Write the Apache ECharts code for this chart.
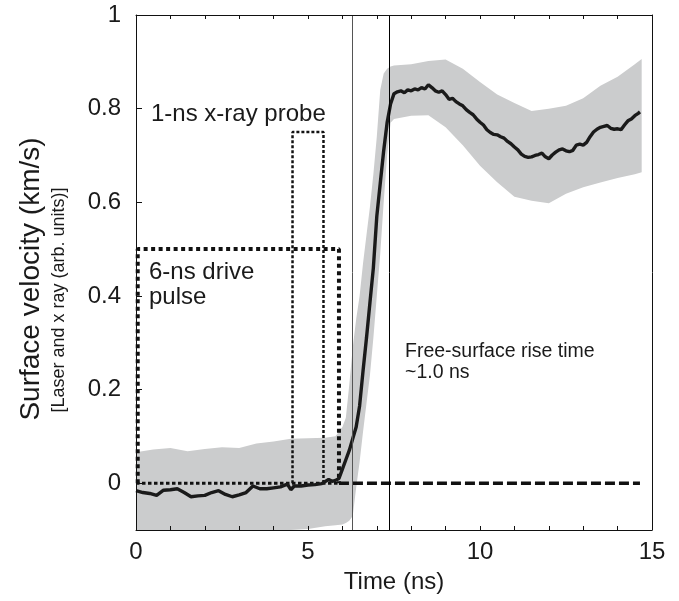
<!DOCTYPE html>
<html>
<head>
<meta charset="utf-8">
<script src="https://cdn.jsdelivr.net/npm/echarts@6/dist/echarts.min.js"></script>
<style>
html,body{margin:0;padding:0;background:#fff;}
#chart{width:679px;height:601px;}
</style>
</head>
<body>
<div id="chart"></div>
<script>
// ---- data ----
const timeV = [0.0,0.2,0.4,0.6,0.8,1.0,1.2,1.4,1.6,1.8,2.0,2.2,2.4,2.6,2.8,3.0,3.2,3.4,3.6,3.8,4.0,4.2,4.4,4.5,4.6,4.8,5.0,5.2,5.4,5.6,5.7,5.8,5.9,6.0,6.1,6.2,6.3,6.4,6.5,6.6,6.7,6.8,6.9,7.0,7.1,7.2,7.3,7.4,7.5,7.6,7.7,7.8,7.9,8.0,8.1,8.2,8.3,8.4,8.5,8.6,8.7,8.8,8.9,9.0,9.1,9.2,9.3,9.4,9.5,9.6,9.7,9.8,9.9,10.0,10.1,10.2,10.3,10.4,10.5,10.6,10.7,10.8,10.9,11.0,11.1,11.2,11.3,11.4,11.5,11.6,11.7,11.8,11.9,12.0,12.1,12.2,12.3,12.4,12.5,12.6,12.7,12.8,12.9,13.0,13.1,13.2,13.3,13.4,13.5,13.6,13.7,13.8,13.9,14.0,14.1,14.2,14.3,14.4,14.5,14.6,14.65];
const velocity = [-0.016,-0.02,-0.022,-0.026,-0.015,-0.014,-0.012,-0.02,-0.029,-0.027,-0.026,-0.02,-0.016,-0.024,-0.029,-0.025,-0.02,-0.006,-0.012,-0.012,-0.01,-0.008,-0.002,-0.014,-0.006,-0.006,-0.004,-0.003,-0.001,0.008,0.004,0.006,0.01,0.03,0.05,0.07,0.095,0.12,0.165,0.24,0.31,0.385,0.46,0.57,0.64,0.71,0.77,0.81,0.832,0.836,0.838,0.834,0.84,0.838,0.842,0.84,0.845,0.842,0.851,0.845,0.838,0.835,0.838,0.83,0.82,0.822,0.815,0.81,0.806,0.798,0.792,0.787,0.778,0.771,0.765,0.755,0.749,0.745,0.744,0.74,0.737,0.73,0.725,0.718,0.712,0.703,0.698,0.696,0.697,0.7,0.702,0.705,0.697,0.693,0.701,0.707,0.712,0.714,0.71,0.708,0.711,0.722,0.724,0.722,0.728,0.74,0.75,0.756,0.76,0.762,0.764,0.758,0.756,0.757,0.755,0.765,0.774,0.778,0.785,0.79,0.793];

const bandT     = [0,0.5,1,1.5,2,2.5,3,3.5,4,4.5,5,5.5,5.8,6.0,6.1,6.2,6.3,6.4,6.5,6.6,6.7,6.8,6.9,7.0,7.1,7.2,7.3,7.4,7.5,8,8.5,9,9.5,10,10.5,11,11.5,12,12.5,13,13.5,14,14.5,14.7];
const bandUpper = [0.066,0.072,0.075,0.068,0.073,0.077,0.075,0.085,0.089,0.095,0.096,0.097,0.10,0.12,0.14,0.21,0.29,0.35,0.40,0.47,0.53,0.59,0.66,0.74,0.84,0.875,0.885,0.89,0.892,0.895,0.902,0.905,0.885,0.857,0.83,0.812,0.795,0.80,0.806,0.822,0.849,0.868,0.895,0.906];
const bandLower = [-0.11,-0.11,-0.11,-0.11,-0.11,-0.11,-0.11,-0.108,-0.105,-0.10,-0.098,-0.092,-0.09,-0.088,-0.085,-0.08,-0.07,-0.01,0.045,0.11,0.17,0.23,0.31,0.40,0.49,0.60,0.70,0.77,0.778,0.785,0.786,0.76,0.722,0.678,0.643,0.612,0.603,0.598,0.618,0.632,0.642,0.652,0.66,0.664];

const driveT = [0.05,0.05,5.9,5.9];
const driveV = [0,0.5,0.5,0];
const probeT = [4.55,4.55,5.45,5.45];
const probeV = [0,0.75,0.75,0];
const baseLowT = [0,5.9];
const baseLowV = [0,0];
const baseTailT = [5.9,14.65];
const baseTailV = [0,0];
const markTimes = [6.3,7.37];

const xTicks = [0,5,10,15];
const yTicks = [0,0.2,0.4,0.6,0.8,1];

// ---- build ----
const zip = (a,b) => a.map((v,i)=>[v,b[i]]);
const FONT = '"Liberation Sans", Arial, Helvetica, sans-serif';
const INK = '#1a1a1a';

const chart = echarts.init(document.getElementById('chart'), null, {renderer:'canvas'});

const xCommon = {
  type:'value', min:0, max:15, interval:5,
  axisLine:{show:true, onZero:false, lineStyle:{color:'#111', width:1}},
  axisTick:{show:true, inside:true, length:4, lineStyle:{color:'#111', width:1}},
  minorTick:{show:true, splitNumber:5, length:4, lineStyle:{color:'#111', width:1}},
  splitLine:{show:false}, minorSplitLine:{show:false}, z:10
};

function renderBand(params, api){
  if (params.dataIndex !== 0) return null;
  const pts = [];
  for (let i = 0; i < bandT.length; i++) pts.push(api.coord([bandT[i], bandUpper[i]]));
  for (let i = bandT.length - 1; i >= 0; i--) pts.push(api.coord([bandT[i], bandLower[i]]));
  return {type:'polygon', shape:{points:pts}, style:{fill:'#cbcccd', stroke:null}};
}

const txt = (x, y, text, size, align, rot) => ({
  type:'text', x:x, y:y, rotation:rot||0, z:100,
  style:{text:text, font:size+'px '+FONT, fill:INK, align:align, verticalAlign:'middle'}
});

const option = {
  animation:false,
  backgroundColor:'#ffffff',
  grid:{left:136, top:15, right:27, bottom:71, containLabel:false, outerBoundsMode:'none'},
  xAxis:[
    Object.assign({}, xCommon, {position:'bottom',
      axisLabel:{show:true, fontSize:24, margin:10, color:INK, fontFamily:FONT, customValues:xTicks}}),
    Object.assign({}, xCommon, {position:'top', axisLabel:{show:false}})
  ],
  yAxis:[
    {type:'value', min:-0.1, max:1, position:'left',
     axisLine:{show:true, onZero:false, lineStyle:{color:'#111', width:1}},
     axisTick:{show:true, inside:true, length:6, customValues:yTicks, lineStyle:{color:'#111'}},
     axisLabel:{show:true, fontSize:24, margin:15, color:INK, fontFamily:FONT, customValues:yTicks},
     splitLine:{show:false}, z:10},
    {type:'value', min:-0.1, max:1, position:'right',
     axisLine:{show:true, onZero:false, lineStyle:{color:'#111', width:1}},
     axisTick:{show:false}, axisLabel:{show:false}, splitLine:{show:false}, z:10}
  ],
  series:[
    {name:'band', type:'custom', renderItem:renderBand, clip:true, silent:true, z:1,
     data:zip(bandT,bandUpper), encode:{x:0, y:1}},
    {name:'baseLow', type:'line', data:zip(baseLowT,baseLowV), symbol:'none',
     lineStyle:{color:'#111', width:3, type:[3.5,2.5]}, z:3},
    {name:'probe', type:'line', data:zip(probeT,probeV), symbol:'none',
     lineStyle:{color:'#111', width:2.5, type:[3,2]}, z:3},
    {name:'drive', type:'line', data:zip(driveT,driveV), symbol:'none',
     lineStyle:{color:'#111', width:4, type:[4,3.5]}, z:3},
    {name:'baseTail', type:'line', data:zip(baseTailT,baseTailV), symbol:'none',
     lineStyle:{color:'#111', width:3.5, type:[10,4]}, z:3,
     markLine:{silent:true, symbol:['none','none'], label:{show:false},
       data:[{xAxis:markTimes[0], lineStyle:{color:'#555', width:1, type:'solid'}},
             {xAxis:markTimes[1], lineStyle:{color:'#000', width:1, type:'solid'}}]}},
    {name:'velocity', type:'line', data:zip(timeV,velocity), symbol:'none',
     lineStyle:{color:INK, width:3.4}, z:4}
  ],
  graphic:[
    txt(31, 279, 'Surface velocity (km/s)', 28, 'center', Math.PI/2),
    txt(59, 300, '[Laser and x ray (arb. units)]', 18, 'center', Math.PI/2),
    txt(394, 582, 'Time (ns)', 24, 'center'),
    txt(151, 114, '1-ns x-ray probe', 24, 'left'),
    txt(149, 272, '6-ns drive', 24, 'left'),
    txt(149, 297, 'pulse', 24, 'left'),
    txt(405, 352, 'Free-surface rise time', 19.5, 'left'),
    txt(405, 373, '~1.0 ns', 19.5, 'left')
  ]
};
chart.setOption(option);
</script>
</body>
</html>
